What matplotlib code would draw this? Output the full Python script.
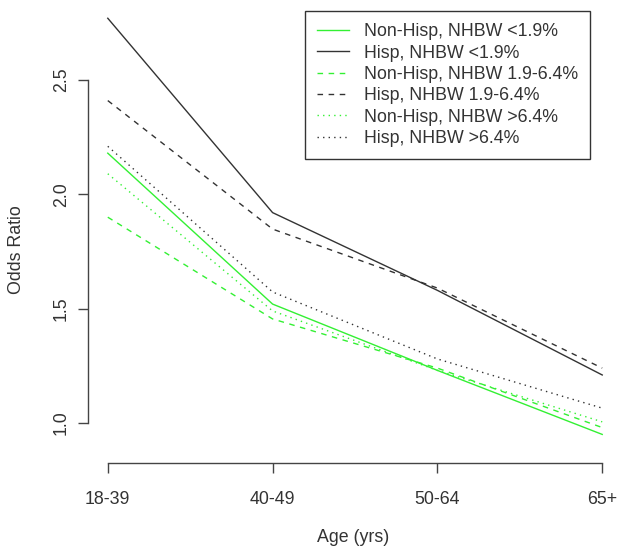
import numpy as np
import matplotlib.pyplot as plt

plt.rcParams['font.family'] = ['Liberation Sans', 'DejaVu Sans']

ages = ['18-39', '40-49', '50-64', '65+']
labels = ['Non-Hisp, NHBW <1.9%', 'Hisp, NHBW <1.9%',
          'Non-Hisp, NHBW 1.9-6.4%', 'Hisp, NHBW 1.9-6.4%',
          'Non-Hisp, NHBW >6.4%', 'Hisp, NHBW >6.4%']
nonhisp_low = [2.18, 1.52, 1.23, 0.95]
hisp_low = [2.77, 1.92, 1.58, 1.21]
nonhisp_mid = [1.90, 1.455, 1.24, 0.98]
hisp_mid = [2.41, 1.848, 1.59, 1.24]
nonhisp_high = [2.09, 1.49, 1.23, 1.005]
hisp_high = [2.21, 1.573, 1.28, 1.065]

series = [nonhisp_low, hisp_low, nonhisp_mid, hisp_mid, nonhisp_high, hisp_high]
colors = ['#33f033', '#333333'] * 3
dashes = [None, None, (4, 4), (4, 4), (1, 3), (1, 3)]

W, H = 626, 559
fig = plt.figure(figsize=(W / 100, H / 100), dpi=100)
left, right, top, bottom = 88, 622, 11.4, 463
ax = fig.add_axes([left / W, 1 - bottom / H, (right - left) / W, (bottom - top) / H])

x = np.arange(1, len(ages) + 1)
for ys, c, d, lab in zip(series, colors, dashes, labels):
    line, = ax.plot(x, ys, color=c, lw=1.0, label=lab)
    if d is not None:
        line.set_dashes(d)

ax.set_xlim(0.88, 4.12)
ax.set_ylim(0.825, 2.8)

txt = '#333333'
fs = 12.8
for s in ['top', 'right']:
    ax.spines[s].set_visible(False)
ax.spines['left'].set_bounds(1.0, 2.5)
ax.spines['bottom'].set_bounds(1, 4)
for s in ['left', 'bottom']:
    ax.spines[s].set_color('#444444')
    ax.spines[s].set_linewidth(1.0)

ax.set_xticks(x)
ax.set_xticklabels(ages)
ax.set_yticks([1.0, 1.5, 2.0, 2.5])
ax.set_yticklabels(['1.0', '1.5', '2.0', '2.5'], rotation=90, va='center')
ax.tick_params(length=7, width=1.0, color='#444444', labelcolor=txt, labelsize=fs)
ax.tick_params(axis='x', pad=13)
ax.tick_params(axis='y', pad=6)

fig.text(353 / W, 1 - 538 / H, 'Age (yrs)', ha='center', va='center', fontsize=fs, color=txt)
fig.text(17 / W, 1 - 250 / H, 'Odds Ratio', ha='center', va='center', rotation=90,
         fontsize=fs, color=txt)

leg = ax.legend(loc='upper left', bbox_to_anchor=(305 / W, 1 - 11 / H),
                bbox_transform=fig.transFigure, borderaxespad=0, fancybox=False,
                fontsize=fs, handlelength=1.8, handletextpad=0.8, labelspacing=0.24,
                borderpad=0.7, framealpha=1)
leg.get_frame().set_edgecolor('#333333')
leg.get_frame().set_linewidth(1.0)
for t in leg.get_texts():
    t.set_color(txt)

fig.savefig('out.png', dpi=100)
